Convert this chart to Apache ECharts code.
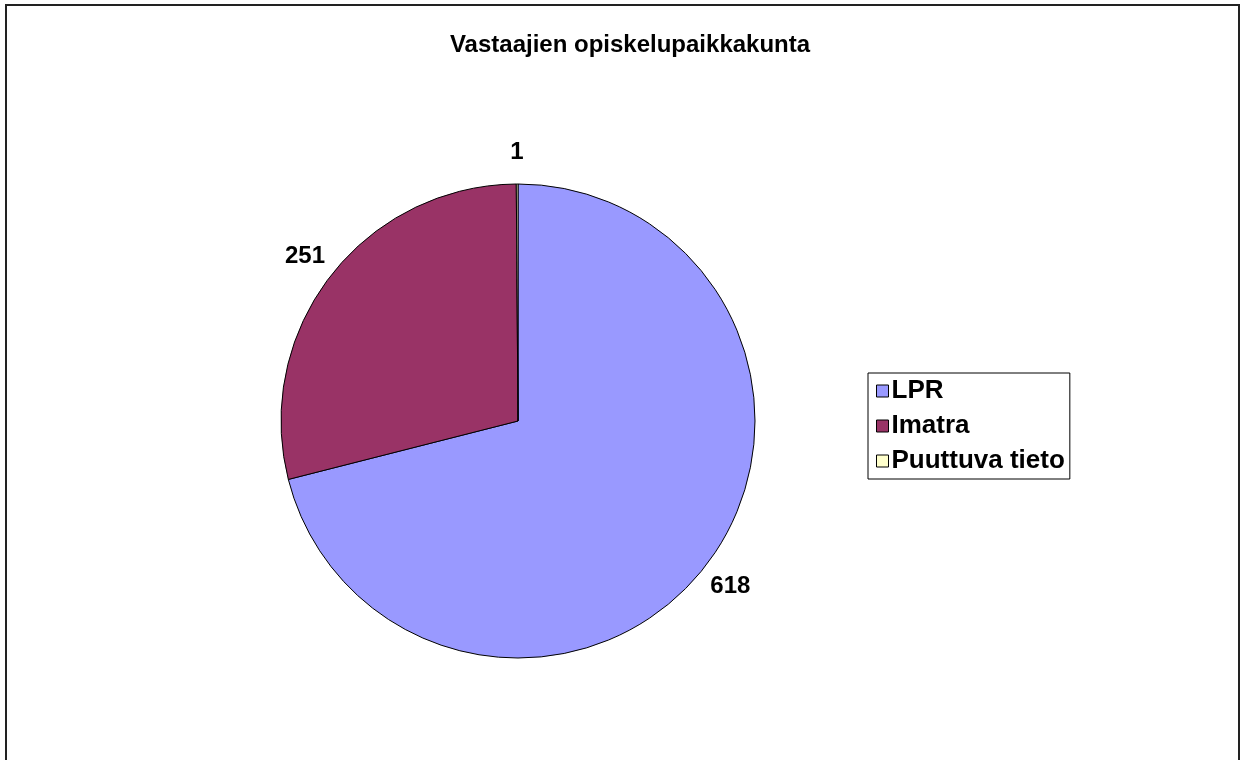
<!DOCTYPE html>
<html>
<head>
<meta charset="utf-8">
<script src="https://cdn.jsdelivr.net/npm/echarts@6/dist/echarts.min.js"></script>
<style>
  html, body { margin: 0; padding: 0; background: #fff; }
  #chart { width: 1244px; height: 760px; }
</style>
</head>
<body>
<div id="chart"></div>
<script>
// data
const categories = ["LPR", "Imatra", "Puuttuva tieto"];
const values = [618, 251, 1];
const colors = ["#9999FF", "#993366", "#FFFFCC"];

const myChart = echarts.init(document.getElementById("chart"));

const option = {
  animation: false,
  backgroundColor: "#ffffff",
  title: {
    text: "Vastaajien opiskelupaikkakunta",
    left: 625,
    textAlign: "center",
    top: 28,
    textStyle: {
      fontFamily: "Liberation Sans, Arial",
      fontSize: 24,
      fontWeight: "bold",
      color: "#000",
    },
  },
  legend: {
    orient: "vertical",
    left: 868,
    top: 373,
    padding: [5, 5, 5, 8],
    itemGap: 9,
    itemWidth: 12,
    itemHeight: 12,
    icon: "rect",
    borderColor: "#000",
    borderWidth: 1,
    data: categories,
    textStyle: {
      fontFamily: "Liberation Sans, Arial",
      fontSize: 26,
      fontWeight: "bold",
      color: "#000",
      padding: [0, 0, 0, -2],
    },
    itemStyle: { borderColor: "#000", borderWidth: 1 },
  },
  graphic: [
    {
      type: "rect",
      shape: { x: 6, y: 5, width: 1233, height: 770 },
      style: { fill: "none", stroke: "#222", lineWidth: 2 },
      silent: true,
    },
  ],
  series: [
    {
      type: "pie",
      center: [518, 421],
      radius: 237,
      startAngle: 90,
      clockwise: true,
      avoidLabelOverlap: false,
      itemStyle: { borderColor: "#000", borderWidth: 1 },
      label: {
        show: true,
        position: "outside",
        formatter: "{c}",
        fontFamily: "Liberation Sans, Arial",
        fontSize: 24,
        fontWeight: "bold",
        color: "#000",
      },
      labelLine: { show: true, length: 32, length2: 0, lineStyle: { opacity: 0 } },
      // center each label on the radial end point, like the original
      labelLayout: function (params) {
        const pts = params.labelLinePoints;
        if (!pts) return {};
        return {
          x: pts[1][0],
          y: pts[1][1],
          align: "center",
          verticalAlign: "middle",
        };
      },
      emphasis: { disabled: true },
      data: categories.map((name, i) => ({
        name: name,
        value: values[i],
        itemStyle: { color: colors[i] },
      })),
    },
  ],
};

myChart.setOption(option);
</script>
</body>
</html>
